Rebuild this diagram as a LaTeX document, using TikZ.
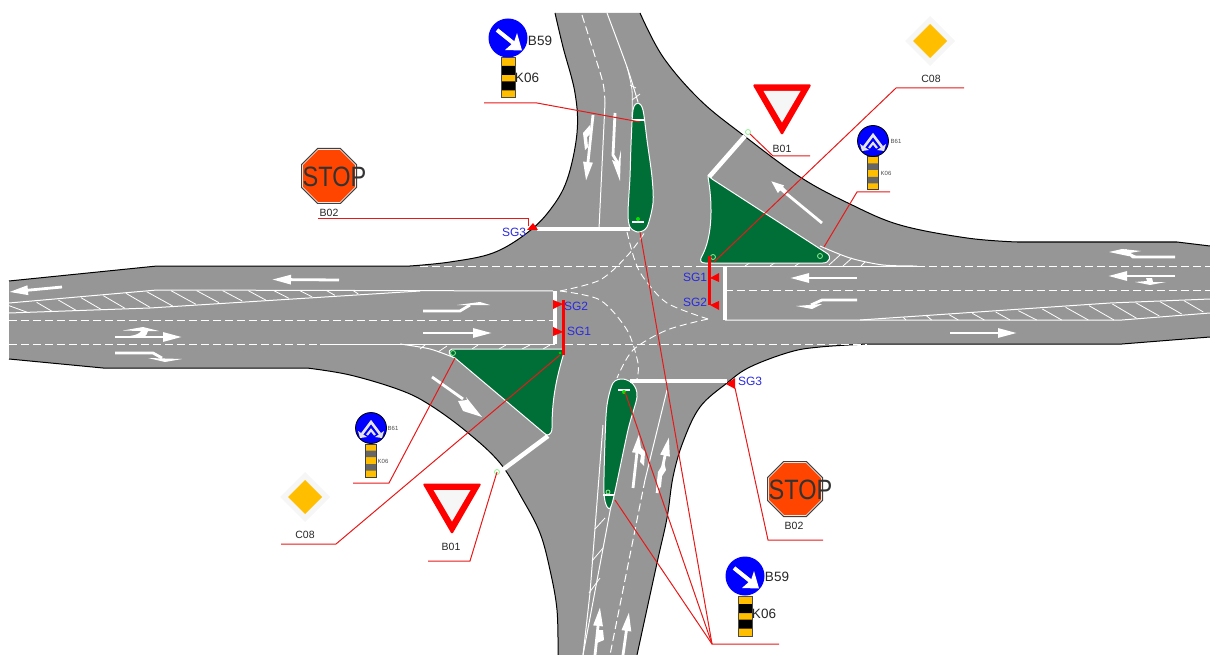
\documentclass[tikz,border=0pt]{standalone}
\usepackage{fontspec}
\setmainfont{Liberation Sans}
\usetikzlibrary{arrows.meta}
\definecolor{roadgrey}{HTML}{969696}
\definecolor{islandgreen}{HTML}{006F37}
\definecolor{amberc}{HTML}{FFBF00}
\definecolor{leadred}{HTML}{E81818}
\definecolor{sgblue}{HTML}{2A2AE0}
\definecolor{stopred}{HTML}{FF4500}
\definecolor{halo}{HTML}{F6F6F6}
\definecolor{markgreen}{HTML}{90F090}
\tikzset{
  roadedge/.style={draw=black,line width=1pt},
  lane/.style={draw=white,line width=1pt},
  lanedash/.style={draw=white,line width=1pt,dash pattern=on 8pt off 4pt},
  curvedash/.style={draw=white,line width=0.9pt,dash pattern=on 7pt off 4pt},
  hatchline/.style={draw=white,line width=0.8pt},
  stopline/.style={draw=white,line width=4.5pt},
  island/.style={fill=islandgreen,draw=white,line width=1pt},
  mark arrow/.style={draw=white,line width=2.8pt,-{Triangle[length=19pt,width=9pt]}},
  short arrow/.style={draw=white,line width=2.8pt,-{Triangle[length=13pt,width=9pt]}},
  stem/.style={draw=white,line width=2.8pt},
  markfill/.style={fill=white},
  leader/.style={draw=leadred,line width=1pt},
  redbar/.style={draw=red,line width=3pt},
  sgtri/.style={fill=red},
  sglabel/.style={text=sgblue,font=\fontsize{12}{12}\selectfont,inner sep=0pt},
  signlabel/.style={text=black!85,font=\fontsize{10.5}{11}\selectfont,inner sep=0pt},
  biglabel/.style={text=black!85,font=\fontsize{13.5}{14}\selectfont,inner sep=0pt},
  tinylabel/.style={text=black!70,font=\fontsize{6}{6}\selectfont,inner sep=0pt},
  tinymark/.style={draw=markgreen,line width=0.8pt},
}
\newcommand\bodyNE{-- plot[smooth,tension=0.6] coordinates {(640,13) (663,57) (700,100) (743,135) (800,177) (850,204) (900,225) (967,238) (1017,242)} -- (1177,242) -- (1210,246)}
\newcommand\bodySE{-- (1122,344) -- (867,344) -- plot[smooth,tension=0.6] coordinates {(867,344) (820,347) (790,352) (750,367) (727,383) (700,407) (683,442) (673,477) (667,518) (657,563) (637,655)}}
\newcommand\bodySW{-- plot[smooth,tension=0.6] coordinates {(558,655) (557,610) (550,570) (540,533) (523,500) (500,463) (467,432) (430,405) (400,390) (350,375) (307,368)} -- (103,368) -- (9,359)}
\newcommand\bodyNW{-- (157,266) -- (410,266) -- plot[smooth,tension=0.6] coordinates {(410,266) (450,262) (493,253) (527,233) (550,210) (567,180) (577,133) (575,93) (563,47) (555,13)}}
% blue "keep right" sign with arrow, beacon below
\newcommand\signSE[3]{%
  \begin{scope}[shift={(#1,#2)}]
    \fill[amberc] (-7,20) rectangle (7,60);
    \fill[black] (-7,28) rectangle (7,37) (-7,43.5) rectangle (7,52.5);
    \draw[black!70,line width=1pt] (-7,20) rectangle (7,60);
    \node[circle,fill=blue,minimum size=39pt,inner sep=0pt] (#3) at (0,0) {};
    \draw[white,line width=4pt] (-11,-8) -- (9,8);
    \fill[white] (-3,12) -- (14,12.5) -- (9,-5) -- (6,4) -- cycle;
  \end{scope}}
% blue two-way sign with grey beacon
\newcommand\signTwo[3]{%
  \begin{scope}[shift={(#1,#2)}]
    \fill[amberc] (-5.5,16) rectangle (5.5,49);
    \fill[black!60] (-5.5,22.5) rectangle (5.5,29) (-5.5,36) rectangle (5.5,42.5);
    \draw[black!75,line width=1pt] (-5.5,16) rectangle (5.5,49);
    \node[circle,fill=blue,draw=black,line width=0.8pt,minimum size=31pt,inner sep=0pt] (#3) at (0,0) {};
    \draw[black!10,line width=2.6pt] (-9,6) -- (0,-6) -- (9,6);
    \draw[black!10,line width=2.2pt] (-4,7) -- (0,2) -- (4,7);
    \fill[black!10] (-13,3) -- (-11,10) -- (-4,9) -- cycle (13,3) -- (11,10) -- (4,9) -- cycle;
  \end{scope}}
\newcommand\yieldsign[3]{%
  \begin{scope}[shift={(#1,#2)}]
    \fill[red,rounded corners=1.5pt] (-29.5,-25.5) -- (29.5,-25.5) -- (0,25.5) -- cycle;
    \fill[halo] (-18.5,-19) -- (18.5,-19) -- (0,12.5) -- cycle;
    \coordinate (#3) at (0,0);
  \end{scope}}
\newcommand\diamondsign[3]{%
  \begin{scope}[shift={(#1,#2)}]
    \fill[halo] (-25,0) -- (0,-25) -- (25,0) -- (0,25) -- cycle;
    \fill[amberc] (-17,0) -- (0,-17) -- (17,0) -- (0,17) -- cycle;
    \coordinate (#3) at (0,0);
  \end{scope}}
\newcommand\stopsign[3]{%
  \begin{scope}[shift={(#1,#2)}]
    \draw[black!75,line width=1pt,fill=white] (-27.5,-11.4) -- (-11.4,-27.5) -- (11.4,-27.5) -- (27.5,-11.4) -- (27.5,11.4) -- (11.4,27.5) -- (-11.4,27.5) -- (-27.5,11.4) -- cycle;
    \fill[stopred] (-26,-10.8) -- (-10.8,-26) -- (10.8,-26) -- (26,-10.8) -- (26,10.8) -- (10.8,26) -- (-10.8,26) -- (-26,10.8) -- cycle;
    \node[text=black!80,font=\fontsize{28}{28}\selectfont,xscale=0.84,inner sep=0pt] (#3) at (5.5,1) {STOP};
  \end{scope}}
\begin{document}
\begin{tikzpicture}[x=1pt,y=-1pt]
\useasboundingbox (0,0) rectangle (1210,655);
% road surface
\fill[roadgrey] (640,13) \bodyNE -- (1210,337) \bodySE -- (558,655) \bodySW -- (9,281) \bodyNW -- cycle;
\draw[roadedge] (640,13) \bodyNE;
\draw[roadedge] (1210,337) \bodySE;
\draw[roadedge] (558,655) \bodySW;
\draw[roadedge] (9,281) \bodyNW;

% horizontal lane lines
\draw[lanedash] (420,266) -- (703,266);
\draw[lanedash] (917,266) -- (1210,266);
\draw[lane] (703,266) -- (917,266);
\draw[lanedash] (9,344) -- (320,344);
\draw[lane] (320,344) -- (555,344);
\draw[lanedash] (565,344) -- (867,344);
\draw[lanedash] (9,320) -- (555,320);
\draw[lane] (157,290) -- (553,291);
\draw[lane] (9,303) -- (157,290);
\draw[lane] (9,313) -- (150,308) -- (420,291);
\draw[lanedash] (725,290.5) -- (1210,290.5);
\draw[lane] (725,320) -- (1122,320) -- (1210,313);
\draw[lane] (860,320) -- (1110,303) -- (1210,299);

% hatching west
\begin{scope}[shift={(0,250)},scale=0.3333]
\foreach \a/\b/\c/\d in {27/167/85/188,110/157/158/185,175/150/230/182,243/143/303/178,310/137/375/175,378/130/450/172,440/125/518/168,513/122/588/163,590/122/657/158,668/122/727/153,745/122/797/150,822/122/867/145,900/122/937/141,980/122/1005/136,1060/122/1075/132}
  \draw[hatchline] (\a,\b) -- (\c,\d);
\end{scope}
% hatching east
\begin{scope}[shift={(800,110)},scale=0.3333]
\foreach \a/\b/\c/\d in {310/622/318/630,380/618/395/630,447/614/475/630,517/610/553/630,587/606/630/630,655/602/710/630,727/597/785/630,797/592/865/630,867/587/942/630,937/582/1010/625,1007/578/1078/618,1080/575/1145/612,1152/572/1210/606}
  \draw[hatchline] (\a,\b) -- (\c,\d);
\end{scope}

% curved dashed paths in the junction
\draw[curvedash] plot[smooth] coordinates {(560,291) (600,300) (627,330) (638,363) (637,379)};
\draw[curvedash] plot[smooth] coordinates {(560,291) (600,280) (628,255) (645,232)};
\draw[curvedash] plot[smooth] coordinates {(627,232) (634,258) (643,277) (667,303) (708,319)};
\draw[curvedash] plot[smooth] coordinates {(708,319) (667,330) (633,350) (617,378)};

% north arm lines
\draw[lanedash] plot[smooth] coordinates {(582,15) (593,50) (603,83) (605,103)};
\draw[lane] (605,103) -- (599,229);
\draw[lane] plot[smooth] coordinates {(607,13) (627,67) (638,102)};
\draw[hatchline] plot[smooth] coordinates {(627,67) (632,90) (632,117)};
\draw[hatchline] (630,85) -- (636,88) (632,100) -- (640,94);
% south arm lines
\draw[lane] (667,390) -- (645,480);
\draw[lanedash] (645,480) -- (610,655);
\draw[lane] (603,425) -- (590,593) -- (583,655);
\draw[lane] (611,506) -- (583,655);
\draw[hatchline] (595,529) -- (605,518) (592,561) -- (603,548) (589,593) -- (600,578);

% arms: hatching at the islands
\draw[lane] plot[smooth] coordinates {(820,246) (850,258) (883,265) (917,266)};
\draw[hatchline] (840,255) -- (829,265) (852,258) -- (843,266) (865,262) -- (861,266);
\draw[hatchline] (745,266) -- (751,262) (770,266) -- (776,262) (795,266) -- (801,262);
\draw[lane] plot[smooth] coordinates {(400,344) (430,349) (455,358)};
\draw[hatchline] (420,349) -- (425,345) (438,352) -- (447,346) (472,349) -- (478,345) (499,349) -- (506,345) (522,349) -- (530,345) (543,349) -- (550,345);

% islands
\draw[island] plot[smooth cycle,tension=0.5] coordinates {(638,103) (633,110) (631,145) (630,177) (628,213) (630,227) (638,232) (647,227) (653,203) (652,177) (647,140) (643,110)};
\draw[island] (708,177) .. controls (712,200) and (714,235) .. (701,258) .. controls (700,261) and (701,263) .. (705,263) -- (823,263) .. controls (830,263) and (831,256) .. (828,254) -- (712,179) .. controls (710,176) and (708,176) .. (708,177) -- cycle;
\draw[island] (452,349) -- (563,349) -- (563,356) .. controls (556,380) and (552,400) .. (552,428) .. controls (552,435) and (547,437) .. (544,433) -- (455,358) .. controls (449,357) and (447,350) .. (452,349) -- cycle;
\draw[island] plot[smooth cycle,tension=0.5] coordinates {(623,379) (613,383) (607,405) (605,440) (604,493) (608,508) (613,500) (628,430) (637,397) (633,384)};

% white road arrows
\draw[mark arrow] (62,287) -- (9,292);
\draw[mark arrow] (339,280) -- (272,279.5);
\draw[mark arrow] (115,337) -- (182,337);
\fill[markfill] (130,336) .. controls (137,335) and (140,333) .. (141,331) -- (123,330.5) -- (143,327) -- (159,331) -- (148,331) .. controls (147,334) and (146,336) .. (145,336) -- cycle;
\draw[stem] (115,353) -- (153,353) -- (162,358);
\fill[markfill] (148,358) -- (182,359) -- (165,362) -- cycle;
\draw[mark arrow] (423,333) -- (492,333);
\draw[stem] (423,311) -- (460,311) -- (470,305);
\fill[markfill] (457,305) -- (480,302) -- (490,305) -- cycle;
\draw[mark arrow] (857,278) -- (790,278);
\draw[stem] (857,300) -- (822,300) -- (811,305);
\fill[markfill] (822,304) -- (796,306) -- (812,309) -- cycle;
\draw[stem] (1175,257) -- (1133,257) -- (1125,250);
\fill[markfill] (1109,252) -- (1122,249) -- (1141,251) -- (1130,253) -- (1136,256) -- (1128,256) -- cycle;
\draw[mark arrow] (1175,276) -- (1108,276);
\fill[markfill] (1152,278) -- (1153,282) -- (1166,282) -- (1150,285) -- (1135,282) -- (1147,281) -- (1146,278) -- cycle;
\draw[mark arrow] (950,333) -- (1017,333);
\draw[short arrow] (822,223) -- (771,181);
\fill[markfill] (776,189) -- (788,192) -- (782,186) -- cycle;
\draw[stem] (432,377) -- (463,399);
\fill[markfill] (458,401) -- (467,400) -- (466,397) -- (482,417) -- (463,411) -- cycle;
% north arm arrows
\draw[mark arrow] (593,115) -- (586,181);
\fill[markfill] (590,125) -- (583,133) -- (585,150) -- (588,147) -- (587,137) -- (590,134) -- cycle;
\draw[stem] (615,113) -- (613,155) -- (619,165);
\fill[markfill] (612,160) -- (620,181) -- (621,150) -- (618,163) -- cycle;
% south arm arrows
\draw[mark arrow] (633,488) -- (639,434);
\fill[markfill] (638,445) -- (645,452) -- (644,466) -- (640,462) -- (641,455) -- (636,452) -- cycle;
\draw[mark arrow] (657,493) -- (669,437);
\fill[markfill] (664,462) -- (658,472) -- (656,490) -- (661,487) -- (662,476) -- (666,470) -- cycle;
\draw[mark arrow] (595,655) -- (600,607);
\fill[markfill] (597,630) -- (603,630) -- (604,640) -- (597,643) -- cycle;
\draw[mark arrow] (623,655) -- (629,612);

% stop lines
\draw[stopline] (537,229) -- (630,229);
\draw[stopline] (630,381) -- (727,381);
\draw[stopline] (745,136) -- (709,177);
\draw[stopline] (501,471) -- (548,436);
\draw[stopline] (555,291) -- (555,344);
\draw[stopline] (725,266) -- (725,320);

% small markers
\draw[white,line width=1.2pt] (632,120) -- (644,120) (632,222) -- (644,222) (618,390) -- (630,390) (603,495) -- (614,495);
\fill[green!90!black] (638,219) circle (2pt) (624,392) circle (2pt);
\draw[tinymark] (748,132) circle (2.5pt) (497,472) circle (2.5pt) (820,256) circle (2.5pt) (713,257) circle (2.5pt) (453,353) circle (2.5pt) (608,492) circle (2pt);
\fill[green!80!black] (560,353) circle (1.5pt);

% signal bars
\draw[redbar] (563,300) -- (563,355);
\draw[redbar] (709,256) -- (709,305);
\fill[sgtri] (553,300) -- (553,309) -- (563,304) -- cycle;
\fill[sgtri] (553,327) -- (553,336) -- (563,332) -- cycle;
\fill[sgtri] (719,273) -- (719,282) -- (710,278) -- cycle;
\fill[sgtri] (719,301) -- (719,310) -- (710,305) -- cycle;
\fill[sgtri] (527,230) -- (533,223) -- (538,230) -- cycle;
\fill[sgtri] (726,384) -- (735,378) -- (735,389) -- cycle;
\node[sglabel] (sgThreeW) at (514,232) {SG3};
\node[sglabel] (sgThreeE) at (750,381) {SG3};
\node[sglabel] (sgTwoW) at (576,306) {SG2};
\node[sglabel] (sgOneW) at (579,331) {SG1};
\node[sglabel] (sgOneE) at (695,277) {SG1};
\node[sglabel] (sgTwoE) at (695,302) {SG2};

% signs
\signSE{508}{38}{signBfiveN}
\node[biglabel] (labBfiveN) at (540,41) {B59};
\node[biglabel] (labKN) at (527,78) {K06};
\signSE{745}{576}{signBfiveS}
\node[biglabel] (labBfiveS) at (777,577) {B59};
\node[biglabel] (labKS) at (764,614) {K06};
\signTwo{873}{141}{signTwoNE}
\node[tinylabel] (labBsixNE) at (896,141) {B61};
\node[tinylabel] (labKNE) at (886,173) {K06};
\signTwo{371}{428}{signTwoSW}
\node[tinylabel] (labBsixSW) at (393,428) {B61};
\node[tinylabel] (labKSW) at (383,461) {K06};
\diamondsign{930}{41}{diaNE}
\node[signlabel] (labCNE) at (931,79) {C08};
\diamondsign{305}{497}{diaSW}
\node[signlabel] (labCSW) at (305,535) {C08};
\yieldsign{782}{110}{yieldNE}
\node[signlabel] (labYNE) at (782,149) {B01};
\yieldsign{452}{509}{yieldSW}
\node[signlabel] (labYSW) at (451,547) {B01};
\stopsign{329}{176}{stopNW}
\node[signlabel] (labSNW) at (329,213) {B02};
\stopsign{795}{489}{stopSE}
\node[signlabel] (labSSE) at (794,526) {B02};

% leaders
\coordinate (tipA) at (640,122);
\coordinate (tipB) at (640,232);
\coordinate (tipC) at (625,392);
\coordinate (tipD) at (615,500);
\coordinate (hubS) at (712,644);
\draw[leader] (484,103) -- (537,103) -- (tipA);
\draw[leader] (779,644) -- (hubS) -- (tipB);
\draw[leader] (hubS) -- (tipC);
\draw[leader] (hubS) -- (tipD);
\draw[leader] (318,219) -- (528,219) -- (528,226);
\draw[leader] (823,540) -- (768,540) -- (735,388);
\draw[leader] (810,156) -- (773,156) -- (750,134);
\draw[leader] (428,561) -- (470,561) -- (497,472);
\draw[leader] (964,88) -- (896,88) -- (714,262);
\draw[leader] (281,544) -- (336,544) -- (560,355);
\draw[leader] (890,192) -- (857,192) -- (824,247);
\draw[leader] (353,483) -- (389,483) -- (455,358);
\end{tikzpicture}
\end{document}
